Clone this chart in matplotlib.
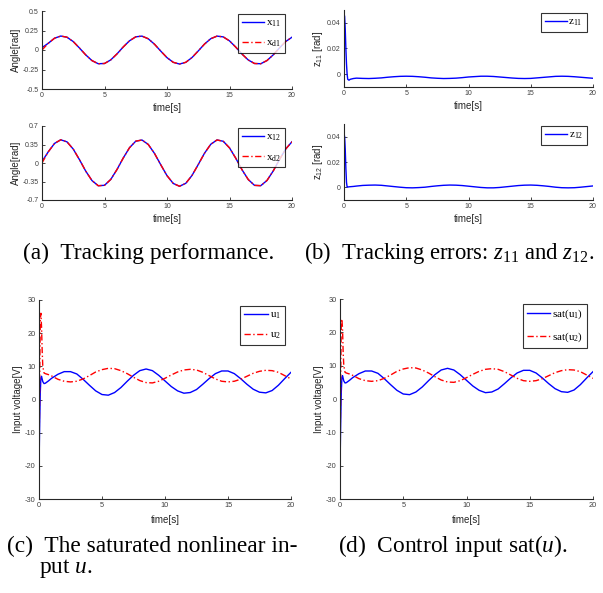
import matplotlib
matplotlib.use('Agg')
import matplotlib.pyplot as plt

plt.rcParams['font.family'] = ['Liberation Sans', 'DejaVu Sans']
plt.rcParams['mathtext.fontset'] = 'custom'
plt.rcParams['mathtext.rm'] = 'Liberation Serif'
plt.rcParams['mathtext.it'] = 'Liberation Serif:italic'

# ---------------- data ----------------
t_track = [0, 0.5, 1, 1.5, 2, 2.5, 3, 3.5, 4, 4.5, 5, 5.5, 6, 6.5, 7, 7.5, 8, 8.5, 9, 9.5,
           10, 10.5, 11, 11.5, 12, 12.5, 13, 13.5, 14, 14.5, 15, 15.5, 16, 16.5, 17, 17.5,
           18, 18.5, 19, 19.5, 20]
x11 = [0.03, 0.086, 0.151, 0.179, 0.164, 0.108, 0.025, -0.063, -0.136, -0.176, -0.173,
       -0.127, -0.050, 0.039, 0.118, 0.169, 0.178, 0.144, 0.074, -0.014, -0.098, -0.158,
       -0.180, -0.158, -0.097, -0.012, 0.076, 0.145, 0.178, 0.168, 0.117, 0.037, -0.052,
       -0.128, -0.173, -0.176, -0.135, -0.062, 0.027, 0.109, 0.164]
xd1 = [0.0, 0.086, 0.151, 0.179, 0.164, 0.108, 0.025, -0.063, -0.136, -0.176, -0.173,
       -0.127, -0.050, 0.039, 0.118, 0.169, 0.178, 0.144, 0.074, -0.014, -0.098, -0.158,
       -0.180, -0.158, -0.097, -0.012, 0.076, 0.145, 0.178, 0.168, 0.117, 0.037, -0.052,
       -0.128, -0.173, -0.176, -0.135, -0.062, 0.027, 0.109, 0.164]
x12 = [0.03, 0.211, 0.370, 0.439, 0.400, 0.263, 0.062, -0.154, -0.333, -0.430, -0.422,
       -0.311, -0.123, 0.095, 0.289, 0.413, 0.435, 0.351, 0.181, -0.033, -0.239, -0.387,
       -0.440, -0.385, -0.236, -0.029, 0.185, 0.354, 0.436, 0.411, 0.286, 0.091, -0.127,
       -0.313, -0.423, -0.429, -0.330, -0.150, 0.066, 0.266, 0.402]
xd2 = [0.0, 0.211, 0.370, 0.439, 0.400, 0.263, 0.062, -0.154, -0.333, -0.430, -0.422,
       -0.311, -0.123, 0.095, 0.289, 0.413, 0.435, 0.351, 0.181, -0.033, -0.239, -0.387,
       -0.440, -0.385, -0.236, -0.029, 0.185, 0.354, 0.436, 0.411, 0.286, 0.091, -0.127,
       -0.313, -0.423, -0.429, -0.330, -0.150, 0.066, 0.266, 0.402]

t_ctrl = [0, 0.05, 0.1, 0.15, 0.2, 0.25, 0.3, 0.4, 0.5, 0.75,
          1, 1.5, 2, 2.5, 3, 3.5, 4, 4.5, 5, 5.5, 6, 6.5, 7, 7.5, 8, 8.5, 9, 9.5,
          10, 10.5, 11, 11.5, 12, 12.5, 13, 13.5, 14, 14.5, 15, 15.5, 16, 16.5, 17, 17.5,
          18, 18.5, 19, 19.5, 20]
z11 = [0.047, 0.045, 0.035, 0.020, 0.008, 0.0, -0.004, -0.0047, -0.0040, -0.0034,
       -0.0031, -0.0033, -0.0034, -0.0032, -0.0029, -0.0024, -0.0020, -0.0017, -0.0016,
       -0.0017, -0.0020, -0.0024, -0.0029, -0.0032, -0.0034, -0.0033, -0.0031, -0.0027,
       -0.0022, -0.0019, -0.0016, -0.0016, -0.0018, -0.0022, -0.0026, -0.0030, -0.0033,
       -0.0034, -0.0033, -0.0029, -0.0025, -0.0021, -0.0017, -0.0016, -0.0017, -0.0020,
       -0.0024, -0.0028, -0.0032]
z12 = [0.042, 0.040, 0.030, 0.015, 0.004, 0.0003, 0.0002, 0.0004, 0.0005, 0.0007,
       0.0010, 0.0015, 0.0017, 0.0018, 0.0016, 0.0011, 0.0006, 0.0001, -0.0003, -0.0004,
       -0.0002, 0.0001, 0.0007, 0.0012, 0.0016, 0.0018, 0.0017, 0.0014, 0.0009, 0.0004,
       -0.0001, -0.0004, -0.0004, -0.0001, 0.0004, 0.0009, 0.0014, 0.0017, 0.0018, 0.0016,
       0.0012, 0.0007, 0.0001, -0.0003, -0.0004, -0.0003, 0.0001, 0.0006, 0.0011]
u1 = [-21, -8, 2, 6.5, 7.0, 6.2, 5.4, 4.8, 4.9, 5.6,
      6.4, 7.6, 8.4, 8.4, 7.7, 6.1, 4.3, 2.6, 1.5, 1.3, 2.1, 3.6, 5.5, 7.3, 8.7, 9.2, 8.7,
      7.3, 5.6, 3.9, 2.6, 1.9, 2.1, 3.0, 4.6, 6.3, 7.8, 8.6, 8.6, 7.8, 6.3, 4.6, 3.1, 2.2,
      2.0, 2.7, 4.3, 6.3, 8.2]
u2 = [-21, 5, 24, 26, 22, 15, 10, 8.0, 7.8, 7.5,
      7.1, 6.1, 5.5, 5.3, 5.5, 6.2, 7.2, 8.3, 9.0, 9.4, 9.3, 8.7, 7.8, 6.7, 5.7, 5.1, 5.0,
      5.5, 6.4, 7.4, 8.3, 8.9, 9.1, 8.9, 8.2, 7.2, 6.2, 5.5, 5.3, 5.5, 6.1, 7.0, 7.9, 8.5,
      8.8, 8.7, 8.2, 7.2, 6.2]
sat_u1 = [-21, -8, 2, 6.5, 7.0, 6.2, 5.4, 4.8, 4.9, 5.6,
          6.4, 7.6, 8.4, 8.4, 7.7, 6.1, 4.3, 2.6, 1.5, 1.3, 2.1, 3.6, 5.5, 7.3, 8.7, 9.2, 8.7,
          7.3, 5.6, 3.9, 2.6, 1.9, 2.1, 3.0, 4.6, 6.3, 7.8, 8.6, 8.6, 7.8, 6.3, 4.6, 3.1, 2.2,
          2.0, 2.7, 4.3, 6.3, 8.2]
sat_u2 = [-21, 5, 23, 24, 21, 14, 10, 8.0, 7.8, 7.5,
          7.1, 6.1, 5.5, 5.3, 5.5, 6.2, 7.2, 8.3, 9.0, 9.4, 9.3, 8.7, 7.8, 6.7, 5.7, 5.1, 5.0,
          5.5, 6.4, 7.4, 8.3, 8.9, 9.1, 8.9, 8.2, 7.2, 6.2, 5.5, 5.3, 5.5, 6.1, 7.0, 7.9, 8.5,
          8.8, 8.7, 8.2, 7.2, 6.2]

x_ticks = [0, 5, 10, 15, 20]
a1_yticks = [-0.5, -0.25, 0, 0.25, 0.5]
a1_ylabels = ['-0.5', '-0.25', '0', '0.25', '0.5']
a2_yticks = [-0.7, -0.35, 0, 0.35, 0.7]
a2_ylabels = ['-0.7', '-0.35', '0', '0.35', '0.7']
b_yticks = [0, 0.02, 0.04]
b_ylabels = ['0', '0.02', '0.04']
c_yticks = [-30, -20, -10, 0, 10, 20, 30]
c_ylabels = ['-30', '-20', '-10', '0', '10', '20', '30']

captions = {
    'a': '(a)  Tracking performance.',
    'b': '(b)  Tracking errors: $z_{11}$ and $z_{12}$.',
    'c1': '(c)  The saturated nonlinear in-',
    'c2': 'put $u$.',
    'd': '(d)  Control input sat$(u)$.',
}

# ---------------- figure ----------------
W, H = 603, 593
fig = plt.figure(figsize=(W / 100, H / 100), dpi=100)

def add_ax(l, t, r, b):
    return fig.add_axes([l / W, 1 - b / H, (r - l) / W, (b - t) / H])

SPINE = '#262626'
TICKC = '#404040'
BLUE = '#0000ff'
RED = '#ff0000'
DASHDOT = (0, (4.5, 1.8, 1.0, 1.8))

def style(ax, yticks, ylabels, ylim, ylabel, tick_fs, lab_fs, xpad):
    ax.set_xlim(0, 20)
    ax.set_ylim(*ylim)
    ax.set_xticks(x_ticks)
    ax.set_xticklabels([str(v) for v in x_ticks])
    ax.set_yticks(yticks)
    ax.set_yticklabels(ylabels)
    for s in ['top', 'right']:
        ax.spines[s].set_visible(False)
    for s in ['left', 'bottom']:
        ax.spines[s].set_color(SPINE)
        ax.spines[s].set_linewidth(0.8)
    ax.tick_params(direction='in', length=2.0, width=0.6, colors=SPINE,
                   labelsize=tick_fs, labelcolor=TICKC, pad=2.5)
    ax.set_xlabel('time[s]', fontsize=lab_fs, color='#262626', labelpad=xpad)
    ax.set_ylabel(ylabel, fontsize=lab_fs, color='#262626', labelpad=1)

def legend(ax, x, y, fs=8, hl=2.0):
    lg = ax.legend(loc='upper right', bbox_to_anchor=(x, y), borderaxespad=0,
                   prop={'family': 'Liberation Serif', 'size': fs},
                   frameon=True, fancybox=False, edgecolor='black',
                   handlelength=hl, handletextpad=0.15, labelspacing=0.8,
                   borderpad=0.35)
    lg.get_frame().set_linewidth(0.8)
    return lg

# (a) top
ax = add_ax(42, 11, 292, 89)
ax.plot(t_track, x11, color=BLUE, lw=1.0, label='x$_{\\mathregular{11}}$')
ax.plot(t_track, xd1, color=RED, lw=1.0, ls=DASHDOT, label='x$_{\\mathregular{d1}}$')
style(ax, a1_yticks, a1_ylabels, (-0.5, 0.5), 'Angle[rad]', 5, 7, 2.5)
legend(ax, 0.972, 0.96)

# (a) bottom
ax = add_ax(42, 126, 292, 200)
ax.plot(t_track, x12, color=BLUE, lw=1.0, label='x$_{\\mathregular{12}}$')
ax.plot(t_track, xd2, color=RED, lw=1.0, ls=DASHDOT, label='x$_{\\mathregular{d2}}$')
style(ax, a2_yticks, a2_ylabels, (-0.7, 0.7), 'Angle[rad]', 5, 7, 2.5)
legend(ax, 0.972, 0.97)

# (b) top
ax = add_ax(344, 10, 593, 87)
ax.plot(t_ctrl, z11, color=BLUE, lw=1.0, label='z$_{\\mathregular{11}}$')
style(ax, b_yticks, b_ylabels, (-0.01, 0.05), 'z$_{\\mathregular{11}}$ [rad]', 5, 7, 2.5)
legend(ax, 0.975, 0.96)

# (b) bottom
ax = add_ax(344, 124, 593, 200)
ax.plot(t_ctrl, z12, color=BLUE, lw=1.0, label='z$_{\\mathregular{12}}$')
style(ax, b_yticks, b_ylabels, (-0.01, 0.05), 'z$_{\\mathregular{12}}$ [rad]', 5, 7, 2.5)
legend(ax, 0.975, 0.97)

# (c)
ax = add_ax(39, 300, 291, 499)
ax.plot(t_ctrl, u1, color=BLUE, lw=1.0, label='u$_{\\mathregular{1}}$')
ax.plot(t_ctrl, u2, color=RED, lw=1.0, ls=DASHDOT, label='u$_{\\mathregular{2}}$')
style(ax, c_yticks, c_ylabels, (-30, 30), 'Input voltage[V]', 5.3, 7, 4)
legend(ax, 0.976, 0.97, hl=2.2)

# (d)
ax = add_ax(340, 299, 593, 499)
ax.plot(t_ctrl, sat_u1, color=BLUE, lw=1.0, label='sat(u$_{\\mathregular{1}}$)')
ax.plot(t_ctrl, sat_u2, color=RED, lw=1.0, ls=DASHDOT, label='sat(u$_{\\mathregular{2}}$)')
style(ax, c_yticks, c_ylabels, (-30, 30), 'Input voltage[V]', 5.3, 7, 4)
legend(ax, 0.976, 0.975, hl=2.1)

# captions
CAP = dict(family='Liberation Serif', fontsize=16.8, color='black', va='center', ha='left')
fig.text(23 / W, 1 - 253 / H, captions['a'], **CAP)
CAPB = dict(CAP, fontsize=16.3)
fig.text(304 / W, 1 - 253 / H, captions['b'], **CAPB)
fig.text(7 / W, 1 - 546 / H, captions['c1'], **CAP)
fig.text(39 / W, 1 - 568 / H, captions['c2'], **CAP)
fig.text(338 / W, 1 - 546 / H, captions['d'], **CAP)

fig.savefig('out.png', dpi=100)
